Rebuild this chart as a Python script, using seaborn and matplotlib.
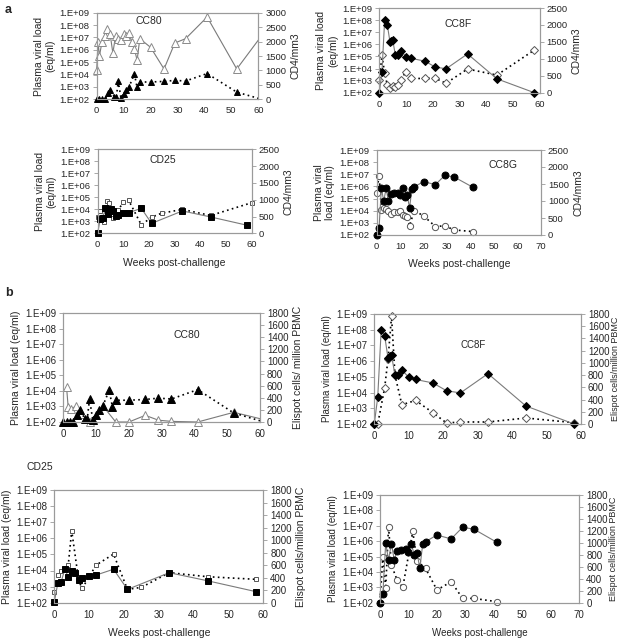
import numpy as np
import matplotlib
matplotlib.use("Agg")
import matplotlib.pyplot as plt
from matplotlib.ticker import FixedLocator, FuncFormatter, NullLocator
import seaborn as sns

# ---- data (weeks post-challenge) ----
# CC80
cc80_vl_weeks = [0, 1, 2, 3, 4.3, 5, 6.6, 7.3, 8, 9, 10, 11, 12, 14, 15, 16, 20, 25, 29, 33, 41, 52, 60]
cc80_vl = [1e2, 1e2, 1e2, 1e2, 3e2, 6e2, 1.6e2, 1.5e2, 3e3, 1.3e2, 2.7e2, 5.6e2, 1e3, 1.1e4, 9e2,
           2.5e3, 2.5e3, 2.8e3, 3.4e3, 3e3, 1.2e4, 3.8e2, 1.2e2]
cc80_cd4_weeks = [0, 0.5, 1, 2, 3, 4, 5, 6, 7, 8, 9, 10, 11, 12, 13, 14, 15, 16, 20, 25, 29, 33, 41, 52, 60]
cc80_cd4 = [1000, 2000, 1500, 2000, 2200, 2450, 2250, 1600, 2200, 2100, 2050, 2250, 2200, 2300, 2000,
            1750, 1350, 2100, 1800, 1050, 1950, 2100, 2850, 1050, 2050]
cc80_eli_weeks = [1, 1.5, 2.5, 4, 5.5, 8, 12, 16, 20, 25, 29, 33, 41, 52, 60]
cc80_eli = [570, 240, 215, 270, 135, 0, 270, 0, 0, 110, 30, 10, 0, 160, 55]

# CC8F
cc8f_vl_weeks = [0, 1, 2, 3, 4, 4.5, 5, 6, 7, 8, 10, 12, 17, 21, 25, 33, 44, 58]
cc8f_vl = [1e2, 5.3e3, 1e8, 4.1e7, 1.5e6, 2e6, 2.4e6, 1.3e5, 1.3e5, 2.7e5, 9.5e4, 6.8e4, 4.1e4,
           1.3e4, 9.5e3, 1.6e5, 1.4e3, 1e2]
cc8f_cd4_weeks = [0, 1, 2, 3, 4, 5, 6, 7, 8, 10, 12, 17, 21, 25, 33, 44, 58]
cc8f_cd4 = [380, 1100, 570, 230, 130, 200, 160, 230, 380, 620, 420, 420, 420, 280, 700, 520, 1260]
cc8f_eli_weeks = [0, 1, 3, 4, 5, 6, 8, 12, 17, 21, 25, 33, 44, 58]
cc8f_eli = [0, 0, 590, 1070, 1760, 800, 315, 386, 185, 16, 33, 33, 98, 22]

# CD25
cd25_vl_weeks = [0, 1, 2, 3, 4, 5, 6, 7, 8, 10, 12, 17, 21, 33, 44, 58]
cd25_vl = [1.1e2, 1.6e3, 2e3, 1.2e4, 4.1e3, 9.8e3, 6.6e3, 2.6e3, 3.6e3, 4.5e3, 5.2e3, 1.2e4, 6.7e2,
           7.3e3, 2.3e3, 4.8e2]
cd25_cd4_weeks = [0, 1, 2.5, 3.5, 4.5, 6, 7, 8, 10, 12, 17, 21, 25, 33, 44, 60]
cd25_cd4 = [480, 650, 350, 950, 900, 450, 480, 700, 920, 990, 250, 480, 600, 710, 530, 910]
cd25_eli_weeks = [0, 1, 2, 4, 5, 7, 8, 12, 17, 21, 25, 33, 44, 58]
cd25_eli = [176, 442, 500, 600, 1150, 350, 229, 600, 777, 213, 245, 480, 415, 373]

# CC8G
cc8g_vl_weeks = [0, 1, 2, 3, 4, 5, 6, 7.5, 9, 10, 11, 12, 13, 14, 15, 16, 20, 25, 29, 33, 41]
cc8g_vl = [1e2, 3.7e2, 7.3e5, 6e4, 7e5, 6e4, 2.3e5, 2.7e5, 3.1e5, 2.1e5, 7e5, 1.3e5, 1.8e5, 1.7e4,
           6.6e5, 9.3e5, 2.5e6, 1.4e6, 8e6, 6e6, 8.5e5]
cc8g_cd4_weeks = [0, 1, 2, 3, 4, 5, 6, 7.5, 9, 10, 11, 12, 13, 14, 16, 20, 25, 29, 33, 41]
cc8g_cd4 = [1250, 1750, 750, 800, 760, 700, 620, 690, 690, 720, 590, 560, 520, 270, 720, 560, 250,
            270, 150, 100]
cc8g_eli_weeks = [0, 1, 2, 3, 4, 6, 8, 11.5, 13, 16, 20, 25, 29, 33, 41]
cc8g_eli = [0, 770, 240, 1270, 630, 380, 256, 1190, 700, 574, 212, 351, 72, 72, 17]

FIG_W, FIG_H = 622, 642

sns.set_style("white")
plt.rcParams["font.family"] = ["Liberation Sans", "DejaVu Sans"]

fig = plt.figure(figsize=(FIG_W / 100, FIG_H / 100), dpi=100)

SPINE = "#9a9a9a"
SOLID = "#7a7a7a"


def make_axes(x0, x1, ytop, ybot, xmax, rmax, rstep, fs):
    ax = fig.add_axes([x0 / FIG_W, 1 - ybot / FIG_H, (x1 - x0) / FIG_W, (ybot - ytop) / FIG_H])
    ax2 = ax.twinx()
    ax.set_zorder(ax2.get_zorder() + 1)
    ax.patch.set_visible(False)
    ax.set_yscale("log")
    ax.set_ylim(1e2, 1e9)
    ax.yaxis.set_major_locator(FixedLocator([10.0 ** k for k in range(2, 10)]))
    ax.yaxis.set_minor_locator(NullLocator())
    ax.yaxis.set_major_formatter(FuncFormatter(lambda v, p: "1.E+%02d" % int(round(np.log10(v)))))
    ax.set_xlim(0, xmax)
    ax.set_xticks(range(0, xmax + 1, 10))
    ax2.set_ylim(0, rmax)
    ax2.set_yticks(range(0, rmax + 1, rstep))
    for a in (ax, ax2):
        for s in a.spines.values():
            s.set_color(SPINE)
            s.set_linewidth(0.8)
        a.tick_params(labelsize=fs, length=3, width=0.6, color=SPINE, pad=2)
    return ax, ax2


def series(ax, x, y, marker, filled, dotted, ms, edge="black", skip_last=False):
    kw = dict(marker=marker, markersize=ms, markeredgewidth=0.7,
              markerfacecolor="black" if filled else "white",
              markeredgecolor="black" if filled else edge,
              color="black" if dotted else SOLID,
              linestyle=(0, (1, 2)) if dotted else "-",
              linewidth=1.2 if dotted else 0.8, clip_on=False)
    if skip_last:
        kw["markevery"] = list(range(len(x) - 1))
    sns.lineplot(x=x, y=y, ax=ax, estimator=None, sort=False, **kw)
    ax.set_xlabel("")
    ax.set_ylabel("")


def labels(ax, ax2, left, right, fs, title=None, tpos=None, xlabel=False, rfs=None, rpad=3):
    ax.set_ylabel(left, fontsize=fs, labelpad=3)
    ax2.set_ylabel(right, fontsize=rfs or fs, labelpad=rpad)
    if xlabel:
        ax.set_xlabel("Weeks post-challenge", fontsize=fs, labelpad=6)
    if title:
        ax.text(tpos[0], tpos[1], title, transform=ax.transAxes, fontsize=fs, ha="center", va="center")


# ---------------- panel a ----------------
fa = 6.8
ax, ax2 = make_axes(96.7, 258.3, 12.7, 99.3, 60, 3000, 500, fa)
series(ax, cc80_vl_weeks, cc80_vl, "^", True, True, 5, skip_last=True)
series(ax2, cc80_cd4_weeks, cc80_cd4, "^", False, False, 5.5, edge="#8a8a8a", skip_last=True)
labels(ax, ax2, "Plasma viral load\n(eq/ml)", "CD4/mm3", 7.5, "CC80", (0.32, 0.9))

ax, ax2 = make_axes(379.3, 539.7, 8, 92.7, 60, 2500, 500, fa)
series(ax, cc8f_vl_weeks, cc8f_vl, "D", True, False, 4)
series(ax2, cc8f_cd4_weeks, cc8f_cd4, "D", False, True, 4, edge="#555555")
labels(ax, ax2, "Plasma viral load\n(eq/ml)", "CD4/mm3", 7.5, "CC8F", (0.49, 0.81))

ax, ax2 = make_axes(97.7, 251.7, 149.3, 233.3, 60, 2500, 500, fa)
series(ax2, cd25_cd4_weeks, cd25_cd4, "s", False, True, 3.5, edge="#555555")
series(ax, cd25_vl_weeks, cd25_vl, "s", True, False, 4)
labels(ax, ax2, "Plasma viral load\n(eq/ml)", "CD4/mm3", 7.5, "CD25", (0.42, 0.87), xlabel=True)

ax, ax2 = make_axes(376.7, 541, 150, 235, 70, 2500, 500, fa)
series(ax2, cc8g_cd4_weeks, cc8g_cd4, "o", False, True, 4.5, edge="#555555")
series(ax, cc8g_vl_weeks, cc8g_vl, "o", True, False, 5)
labels(ax, ax2, "Plasma viral\nload (eq/ml)", "CD4/mm3", 7.5, "CC8G", (0.77, 0.82), xlabel=True)

# ---------------- panel b ----------------
fb = 7
ax, ax2 = make_axes(63.3, 260, 313, 422, 60, 1800, 200, fb)
series(ax, cc80_vl_weeks, cc80_vl, "^", True, True, 5.5, skip_last=True)
series(ax2, cc80_eli_weeks, cc80_eli, "^", False, False, 5.5, edge="#8a8a8a", skip_last=True)
labels(ax, ax2, "Plasma viral load (eq/ml)", "Elispot cells/ million PBMC", 7.5, "CC80", (0.63, 0.8))

ax, ax2 = make_axes(374.3, 581, 314, 424, 60, 1800, 200, fb)
series(ax, cc8f_vl_weeks, cc8f_vl, "D", True, False, 4.5)
series(ax2, cc8f_eli_weeks, cc8f_eli, "D", False, True, 4.5, edge="#555555")
labels(ax, ax2, "Plasma viral load (eq/ml)", "Elispot cells/million PBMC", 7, "CC8F", (0.48, 0.72),
       rfs=6.5, rpad=1)

ax, ax2 = make_axes(54.3, 263.3, 490, 602.7, 60, 1800, 200, fb)
series(ax2, cd25_eli_weeks, cd25_eli, "s", False, True, 3.5, edge="#555555")
series(ax, cd25_vl_weeks, cd25_vl, "s", True, False, 4.5)
labels(ax, ax2, "Plasma viral load (eq/ml)", "Elispot cells/million PBMC", 7.5, "CD25", (-0.07, 1.2),
       xlabel=True)

ax, ax2 = make_axes(380, 579.3, 495, 602.7, 70, 1800, 200, fb)
series(ax2, cc8g_eli_weeks, cc8g_eli, "o", False, True, 4.5, edge="#555555")
series(ax, cc8g_vl_weeks, cc8g_vl, "o", True, False, 5)
labels(ax, ax2, "Plasma viral load (eq/ml)", "Elispot cells/million PBMC", 7, xlabel=True, rfs=6.5, rpad=1)

fig.text(5 / FIG_W, 1 - 10 / FIG_H, "a", fontsize=9, fontweight="bold", va="center")
fig.text(5 / FIG_W, 1 - 293 / FIG_H, "b", fontsize=9, fontweight="bold", va="center")

fig.savefig("out.png", dpi=100)
